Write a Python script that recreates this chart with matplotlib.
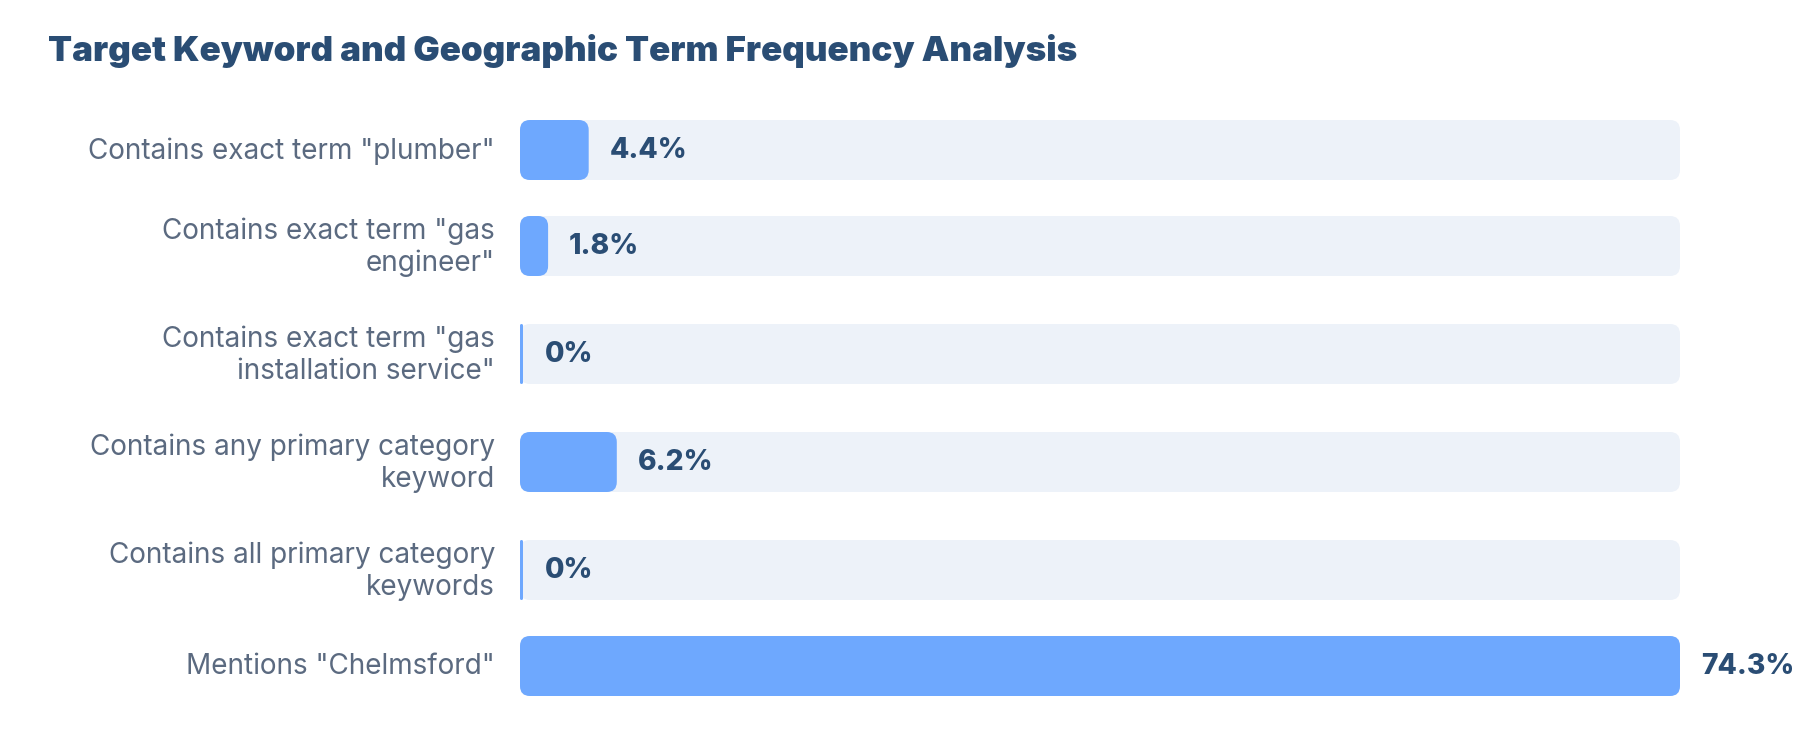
import numpy as np
import matplotlib
matplotlib.use("Agg")
import matplotlib.pyplot as plt
from matplotlib.patches import FancyBboxPatch

plt.rcParams['font.family'] = ['Inter', 'DejaVu Sans']

title = "Target Keyword and Geographic Term Frequency Analysis"
labels = ['Contains exact term "plumber"',
          'Contains exact term "gas\nengineer"',
          'Contains exact term "gas\ninstallation service"',
          'Contains any primary category\nkeyword',
          'Contains all primary category\nkeywords',
          'Mentions "Chelmsford"']
values = [4.4, 1.8, 0, 6.2, 0, 74.3]
value_text = ["4.4%", "1.8%", "0%", "6.2%", "0%", "74.3%"]

W, H = 1800, 752
bar_col = "#6ea8fe"
track_col = "#edf2f9"
title_col = "#2a4d74"
label_col = "#5b6a80"

fig = plt.figure(figsize=(W / 100, H / 100), dpi=100)
fig.patch.set_facecolor("white")

# axes: x spans track (520..1680 px), y in pixel rows from top
x0, x1 = 520, 1680
ax = fig.add_axes([x0 / W, 0, (x1 - x0) / W, 1])
vmax = max(values)
ax.set_xlim(0, vmax)
ax.set_ylim(H, 0)
ax.axis("off")

px = vmax / (x1 - x0)       # data units per pixel in x
aspect = 1 / px             # y px per x unit ratio for rounded corners

# row centres from number of label lines
row_h = {1: 84, 2: 108}
heights = [row_h[l.count("\n") + 1] for l in labels]
centres = []
y = 150 - heights[0] / 2
for h in heights:
    centres.append(y + h / 2)
    y += h

bar_h = 60
rad = 10
for lab, v, t, c in zip(labels, values, value_text, centres):
    # background track
    ax.add_patch(FancyBboxPatch((0, c - bar_h / 2), vmax, bar_h,
                                boxstyle="round,pad=0,rounding_size=%f" % (rad * px),
                                mutation_aspect=aspect, fc=track_col, ec="none"))
    w = max(v, 3 * px)
    r = min(rad * px, w / 2)
    ax.add_patch(FancyBboxPatch((0, c - bar_h / 2), w, bar_h,
                                boxstyle="round,pad=0,rounding_size=%f" % r,
                                mutation_aspect=aspect, fc=bar_col, ec="none"))
    ax.text(max(v, 4 * px) + 21 * px, c, t, ha="left", va="center",
            fontsize=20.3, fontweight="heavy", color=title_col)
    ax.text(-25 * px, c + 1, lab, ha="right", va="center", fontsize=20.1,
            color=label_col, linespacing=1.22, clip_on=False)

fig.text(48 / W, 1 - 61 / H, title, ha="left", va="baseline",
         fontsize=25.2, fontweight="black", color=title_col)

fig.savefig("out.png", dpi=100, facecolor="white")
